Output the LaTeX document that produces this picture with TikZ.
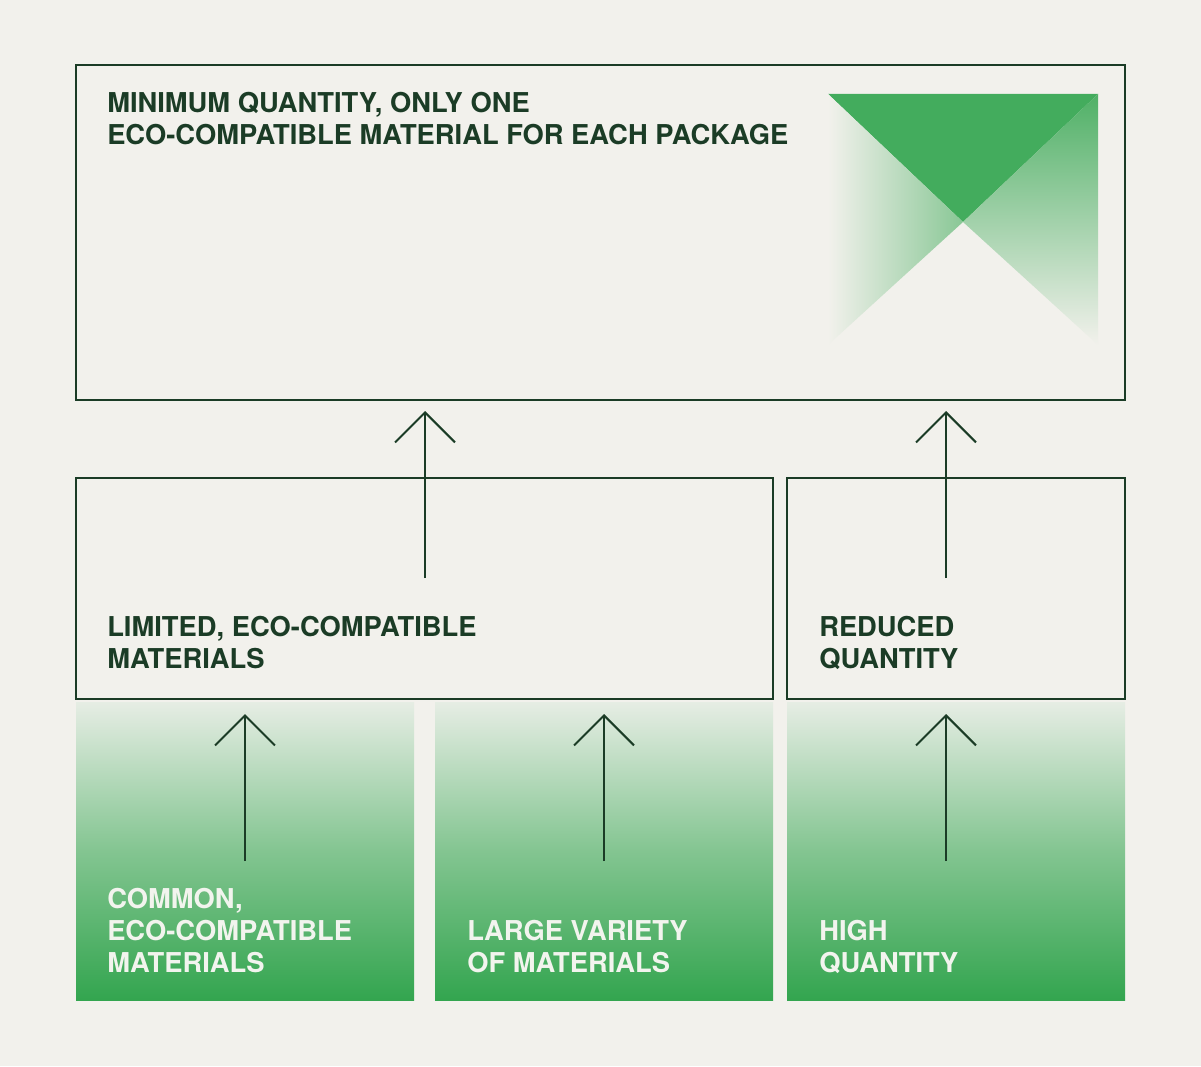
\documentclass[tikz,border=0pt]{standalone}
\usepackage{fontspec}
\setmainfont{TeX Gyre Heros}
\usetikzlibrary{arrows.meta}
\definecolor{paper}{HTML}{F2F1EC}
\definecolor{ink}{HTML}{1B3C26}
\definecolor{leaf}{HTML}{33A54F}
\definecolor{mist}{HTML}{E6EDE4}
\definecolor{chalk}{HTML}{F2F4EE}
\begin{document}
\begin{tikzpicture}[x=0.75pt, y=-0.75pt,
  box/.style={shape=rectangle, draw=ink, line width=1.5pt, minimum height=165.75pt, inner sep=0pt},
  soil/.style={shape=rectangle, minimum width=253.5pt, minimum height=223.5pt, inner sep=0pt, top color=mist, bottom color=leaf, middle color=leaf!58!paper},
  caption/.style={anchor=base west, align=left, inner sep=0pt, font=\fontsize{20.5}{24}\selectfont\bfseries, text=ink},
  rise/.style={draw=ink, line width=1.5pt, -{Straight Barb[length=22.5pt, width=45pt]}}]
\fill[paper] (0,0) rectangle (1201,1066);
\useasboundingbox (0,0) rectangle (1201,1066);
\fill[leaf!92!white] (828,94) -- (1098,94) -- (963,222) -- cycle;
\shade[left color=paper, right color=leaf!55!paper] (828,94) -- (963,222) -- (828,345) -- cycle;
\shade[top color=leaf!85!paper, bottom color=paper] (1098,94) -- (963,222) -- (1098,345) -- cycle;
\node[box, minimum width=786.75pt, minimum height=251.25pt] (goal) at (600.5,232.5) {};
\node[box, minimum width=522.75pt] (limited) at (424.5,588.5) {};
\node[box, minimum width=253.5pt] (reduced) at (956,588.5) {};
\node[soil] (common) at (245,851) {};
\node[soil] (variety) at (604,851) {};
\node[soil] (high) at (956,851) {};
\node[caption] (goal text) at (107,145) {MINIMUM QUANTITY, ONLY ONE\\ECO-COMPATIBLE MATERIAL FOR EACH PACKAGE};
\node[caption] (limited text) at (107,668) {LIMITED, ECO-COMPATIBLE\\MATERIALS};
\node[caption] (reduced text) at (819,668) {REDUCED\\QUANTITY};
\node[caption, text=chalk] (common text) at (107,972) {COMMON,\\ECO-COMPATIBLE\\MATERIALS};
\node[caption, text=chalk] (variety text) at (467,972) {LARGE VARIETY\\OF MATERIALS};
\node[caption, text=chalk] (high text) at (819,972) {HIGH\\QUANTITY};
\coordinate (limited foot) at (425,578);
\coordinate (limited tip) at (425,411);
\coordinate (reduced foot) at (946,578);
\coordinate (reduced tip) at (946,411);
\coordinate (common foot) at (245,861);
\coordinate (common tip) at (245,714);
\coordinate (variety foot) at (604,861);
\coordinate (variety tip) at (604,714);
\coordinate (high foot) at (946,861);
\coordinate (high tip) at (946,714);
\path[rise] (limited foot) -- (limited tip);
\path[rise] (reduced foot) -- (reduced tip);
\path[rise] (common foot) -- (common tip);
\path[rise] (variety foot) -- (variety tip);
\path[rise] (high foot) -- (high tip);
\end{tikzpicture}
\end{document}
